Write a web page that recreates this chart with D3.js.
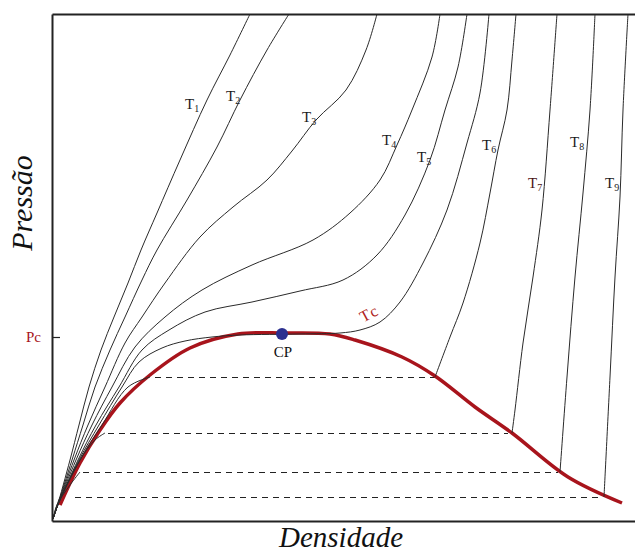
<!DOCTYPE html>
<html>
<head>
<meta charset="utf-8">
<script src="https://cdn.jsdelivr.net/npm/d3@7"></script>
<style>
    body { margin: 0; background: #fff; }
</style>
</head>
<body>
<div id="chart"></div>
<script>
// isotherms, [density, pressure] in arbitrary units
var T1 = [[1, 2], [5, 14], [18, 61], [27, 96], [37, 134], [49, 171], [62, 204], [76, 238], [89, 271], [105, 308], [128, 361], [155, 421], [178, 466], [198, 507]];
var T2 = [[1, 2], [5, 14], [20, 61], [31, 96], [43, 134], [58, 171], [73, 204], [90, 241], [105, 271], [135, 321], [165, 374], [188, 421], [215, 471], [237, 507]];
var T3 = [[1, 2], [5, 14], [22, 61], [36, 96], [53, 134], [73, 178], [90, 204], [113, 238], [148, 284], [181, 314], [215, 341], [240, 370], [264, 401], [294, 431], [314, 471], [325, 507]];
var T4 = [[1, 2], [5, 14], [24, 61], [40, 96], [60, 134], [83, 174], [113, 204], [150, 231], [200, 256], [261, 281], [298, 308], [328, 341], [345, 376], [360, 411], [380, 464], [388, 507]];
var T5 = [[1, 2], [5, 14], [26, 61], [44, 96], [67, 134], [90, 171], [117, 191], [153, 209], [200, 219], [248, 230], [291, 241], [325, 266], [353, 306], [378, 361], [393, 411], [406, 454], [415, 507]];
var TC = [[1, 2], [5, 14], [27, 61], [47, 96], [70, 134], [87, 159], [110, 173], [133, 180], [160, 184], [188, 186], [248, 187], [288, 188], [308, 191], [328, 199], [348, 219], [371, 258], [395, 311], [415, 378], [428, 428], [437, 507]];
// subcritical isotherms: gas branch + liquid branch
var T6gas = [[1, 2], [5, 14], [28, 61], [50, 96], [76, 134], [98, 144]];
var T7gas = [[1, 2], [5, 14], [28, 61], [43, 81], [53, 88]];
var T8gas = [[1, 2], [5, 16], [18, 36], [28, 49]];
var T9gas = [[1, 2], [5, 16], [8, 24]];
var T6 = [[383, 144], [398, 184], [411, 218], [428, 278], [438, 328], [446, 371], [455, 411], [460, 461], [464, 507]];
var T7 = [[460, 88], [463, 111], [471, 178], [481, 244], [490, 311], [498, 411], [505, 507]];
var T8 = [[508, 49], [515, 144], [523, 244], [531, 328], [538, 411], [543, 507]];
var T9 = [[552, 24], [558, 144], [563, 244], [568, 324], [571, 411], [576, 507]];

// coexistence curve
var coexistence = [[8, 16], [28, 58], [48, 91], [68, 118], [98, 146], [138, 173], [186, 187], [232, 188], [278, 187], [303, 181], [350, 164], [383, 145], [423, 114], [460, 88], [516, 44], [570, 18]];

// tie lines
var tiePressure = [144, 88, 49, 24];
var tieLeft = [103, 56, 31, 23];
var tieRight = [383, 456, 506, 550];

var criticalPoint = [230, 187];
var pcValue = 184;

var labelNames = ["1", "2", "3", "4", "5", "6", "7", "8", "9"];
var labelDensity = [133, 174, 250, 330, 365, 430, 476, 518, 553];
var labelPressure = [412, 420, 399, 376, 359, 371, 333, 374, 333];

(function () {
    var width = 635, height = 553;
    var serif = "'Liberation Serif', 'Times New Roman', serif";

    var x = d3.scaleLinear().domain([0, 583]).range([52, 635]);
    var y = d3.scaleLinear().domain([0, 507]).range([521, 14]);

    var svg = d3.select("#chart").append("svg")
        .attr("width", width)
        .attr("height", height)
        .style("display", "block");

    var line = d3.line()
        .x(function (d) { return x(d[0]); })
        .y(function (d) { return y(d[1]); })
        .curve(d3.curveCatmullRom.alpha(0.5));

    // dashed tie lines
    svg.append("g")
        .selectAll("line")
        .data(tiePressure)
        .enter().append("line")
        .attr("x1", function (d, i) { return x(tieLeft[i]); })
        .attr("x2", function (d, i) { return x(tieRight[i]); })
        .attr("y1", function (d) { return Math.round(y(d)) + 0.5; })
        .attr("y2", function (d) { return Math.round(y(d)) + 0.5; })
        .attr("stroke", "#222")
        .attr("stroke-width", 1.2)
        .attr("stroke-dasharray", "6,5");

    // coexistence curve
    svg.append("path")
        .datum(coexistence)
        .attr("d", line)
        .attr("fill", "none")
        .attr("stroke", "#a8141c")
        .attr("stroke-width", 3.5)
        .attr("stroke-linejoin", "round");

    // isotherms
    var isotherms = [T1, T2, T3, T4, T5, TC, T6gas, T7gas, T8gas, T9gas, T6, T7, T8, T9];
    svg.append("g")
        .selectAll("path")
        .data(isotherms)
        .enter().append("path")
        .attr("d", line)
        .attr("fill", "none")
        .attr("stroke", "#2a2a2a")
        .attr("stroke-width", 1);

    // frame (axes without ticks)
    svg.append("g")
        .attr("transform", "translate(0," + y(0) + ")")
        .call(d3.axisBottom(x).tickValues([]).tickSizeOuter(0))
        .select(".domain").attr("stroke", "#222").attr("stroke-width", 2);
    svg.append("g")
        .attr("transform", "translate(0," + y(507) + ")")
        .call(d3.axisTop(x).tickValues([]).tickSizeOuter(0))
        .select(".domain").attr("stroke", "#222").attr("stroke-width", 2);
    var yAxis = svg.append("g")
        .attr("transform", "translate(" + x(0) + ",0)")
        .call(d3.axisLeft(y).tickValues([pcValue]).tickSizeInner(-8).tickSizeOuter(0).tickFormat(""));
    yAxis.select(".domain").attr("stroke", "#222").attr("stroke-width", 2);
    yAxis.selectAll(".tick line").attr("stroke", "#222").attr("stroke-width", 1.2);

    svg.append("text")
        .attr("x", x(0) - 11)
        .attr("y", y(pcValue) + 5)
        .attr("text-anchor", "end")
        .attr("font-family", serif)
        .attr("font-size", 15)
        .attr("fill", "#a8141c")
        .text("Pc");

    // critical point
    svg.append("circle")
        .attr("cx", x(criticalPoint[0]))
        .attr("cy", y(criticalPoint[1]))
        .attr("r", 6)
        .attr("fill", "#2b2f8f");
    svg.append("text")
        .attr("x", x(criticalPoint[0]) + 1)
        .attr("y", y(criticalPoint[1]) + 23)
        .attr("text-anchor", "middle")
        .attr("font-family", serif)
        .attr("font-size", 15)
        .attr("fill", "#111")
        .text("CP");

    // Tc label
    svg.append("text")
        .attr("transform", "translate(" + x(320) + "," + y(203) + ") rotate(-28)")
        .attr("text-anchor", "middle")
        .attr("font-family", serif)
        .attr("font-size", 16)
        .attr("letter-spacing", 2)
        .attr("fill", "#b01e24")
        .text("Tc");

    // isotherm labels
    var labels = svg.append("g")
        .selectAll("text")
        .data(labelNames)
        .enter().append("text")
        .attr("x", function (d, i) { return x(labelDensity[i]); })
        .attr("y", function (d, i) { return y(labelPressure[i]); })
        .attr("font-family", serif)
        .attr("font-size", 15)
        .attr("fill", function (d) { return d === "7" ? "#4a1414" : "#1a1a1a"; });
    labels.append("tspan").text("T");
    labels.append("tspan")
        .attr("font-size", 10)
        .attr("dy", 3)
        .text(function (d) { return d; });

    // axis titles
    svg.append("text")
        .attr("transform", "translate(32,203) rotate(-90)")
        .attr("text-anchor", "middle")
        .attr("font-family", serif)
        .attr("font-size", 30)
        .attr("font-style", "italic")
        .attr("fill", "#111")
        .text("Pressão");
    svg.append("text")
        .attr("x", 341)
        .attr("y", 547)
        .attr("text-anchor", "middle")
        .attr("font-family", serif)
        .attr("font-size", 29)
        .attr("font-style", "italic")
        .attr("fill", "#111")
        .text("Densidade");
})();
</script>
</body>
</html>
